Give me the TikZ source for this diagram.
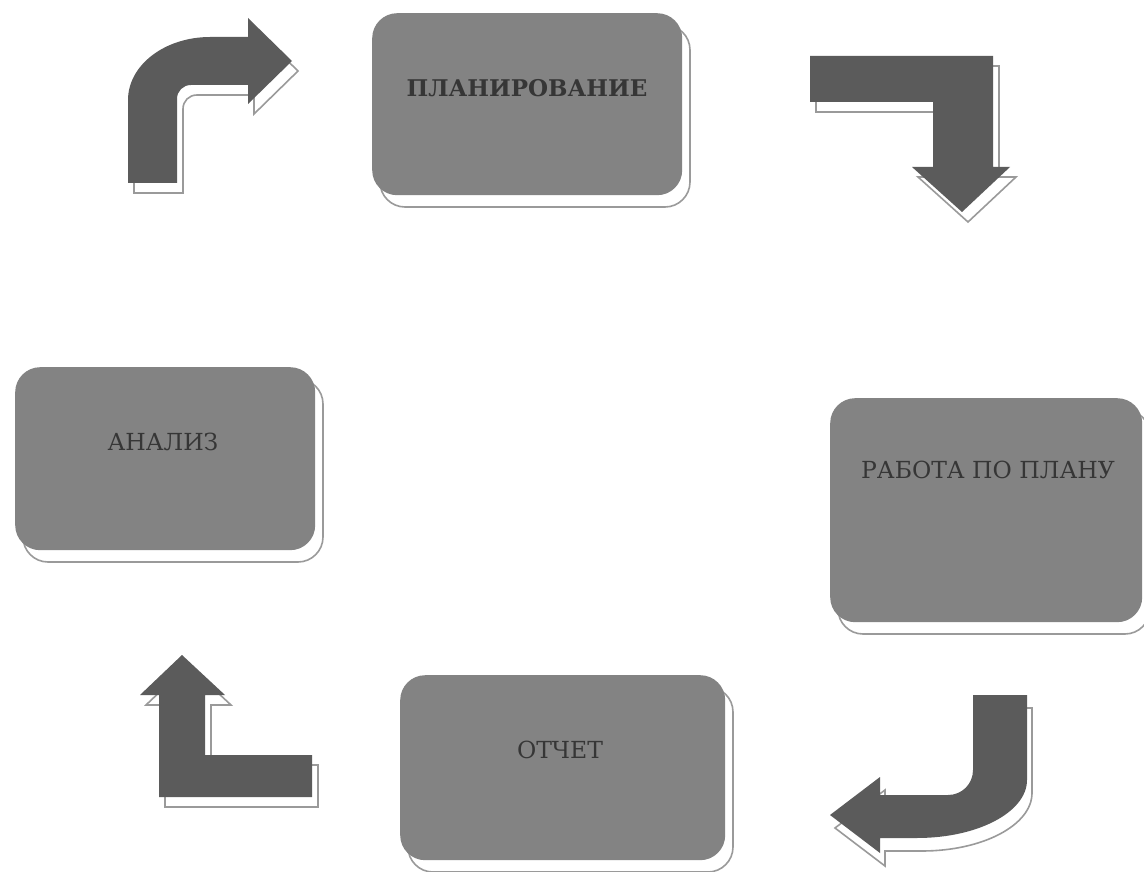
\documentclass[tikz,border=0pt]{standalone}
\usepackage{fontspec}
\setmainfont{DejaVu Serif}
\definecolor{boxgray}{HTML}{838383}
\definecolor{arrowgray}{HTML}{5B5B5B}
\definecolor{shadowline}{HTML}{9A9A9A}
\definecolor{txtgray}{HTML}{363636}
\tikzset{
  box/.style={fill=boxgray, draw=none, rounded corners=25pt, anchor=north west, inner sep=0pt},
  boxshadow/.style={fill=white, draw=shadowline, line width=1.6pt, rounded corners=25pt},
  lbl/.style={text=txtgray, font=\fontsize{23.5}{28}\selectfont, inner sep=0pt},
  blockarrow/.style={fill=arrowgray, draw=none},
  arrowshadow/.style={fill=white, draw=shadowline, line width=1.6pt}
}
\def\pathTL{(128,183) -- (128,100) .. controls (128,65) and (165,37) .. (210,37) -- (248,37) -- (248,18) -- (292,61) -- (248,104) -- (248,85) -- (191,85) .. controls (183,85) and (177,91) .. (177,99) -- (177,183) -- cycle}
\def\pathTR{(810,56) -- (993,56) -- (993,167) -- (1010,167) -- (962,212) -- (912,167) -- (933,167) -- (933,102) -- (810,102) -- cycle}
\def\pathBR{(1027,695) -- (1027,780) .. controls (1027,812) and (978,838) .. (917,838) -- (880,838) -- (880,853) -- (830,815) -- (880,777) -- (880,795) -- (948,795) .. controls (962,795) and (973,784) .. (973,770) -- (973,695) -- cycle}
\def\pathBL{(182,655) -- (225,695) -- (205,695) -- (205,755) -- (312,755) -- (312,797) -- (159,797) -- (159,695) -- (140,695) -- cycle}
\begin{document}
\begin{tikzpicture}[x=1pt,y=-1pt]
\useasboundingbox[fill=white] (0,0) rectangle (1144,872);

% box shadows
\draw[boxshadow] (380,25) rectangle (690,207);
\draw[boxshadow] (838,410) rectangle (1150,634);
\draw[boxshadow] (408,687) rectangle (733,872);
\draw[boxshadow] (23,379) rectangle (323,562);

% boxes
\node (plan) [box, minimum width=310pt, minimum height=182pt] at (372,13) {};
\node (work) [box, minimum width=312pt, minimum height=224pt] at (830,398) {};
\node (report) [box, minimum width=325pt, minimum height=185pt] at (400,675) {};
\node (anal) [box, minimum width=300pt, minimum height=183pt] at (15,367) {};

% labels
\node (plantext) [lbl, font=\fontsize{23}{28}\selectfont\bfseries] at (527,88) {ПЛАНИРОВАНИЕ};
\node (worktext) [lbl] at (988,470) {РАБОТА ПО ПЛАНУ};
\node (reporttext) [lbl] at (560,750) {ОТЧЕТ};
\node (analtext) [lbl] at (163,442) {АНАЛИЗ};

% arrow shadows
\begin{scope}[shift={(6,10)}]
  \path[arrowshadow] \pathTL;
  \path[arrowshadow] \pathTR;
  \path[arrowshadow] \pathBL;
\end{scope}
\begin{scope}[shift={(5,13)}]
  \path[arrowshadow] \pathBR;
\end{scope}

% block arrows
\path[blockarrow] \pathTL;
\path[blockarrow] \pathTR;
\path[blockarrow] \pathBR;
\path[blockarrow] \pathBL;
\end{tikzpicture}
\end{document}
